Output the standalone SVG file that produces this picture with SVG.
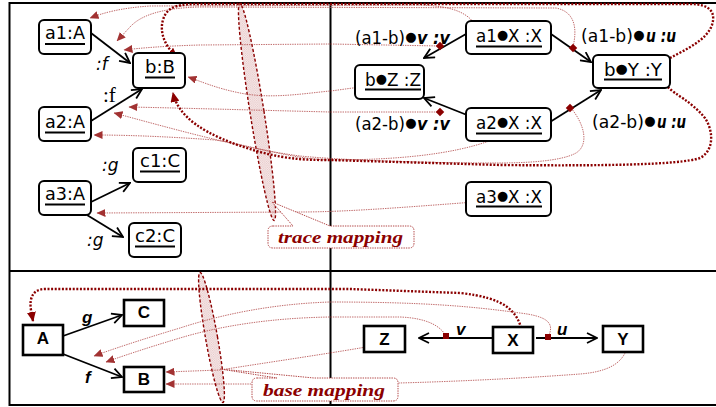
<svg xmlns="http://www.w3.org/2000/svg" width="716" height="407" viewBox="0 0 716 407">
<defs>
  <style>
    .frame { stroke: #000; stroke-width: 2; fill: none; }
    .obj { fill: #fff; stroke: #000; stroke-width: 2; }
    .typ { fill: #fff; stroke: #000; stroke-width: 2.6; }
    .ul { stroke: #000; stroke-width: 2; }
    .n { font-family: "DejaVu Sans", sans-serif; font-size: 17px; fill: #000; }
    .e { font-family: "DejaVu Sans", sans-serif; font-size: 17px; fill: #000; }
    .ei { font-family: "DejaVu Sans", sans-serif; font-size: 17px; font-style: italic; font-weight: bold; fill: #000; }
    .dot { font-size: 13px; }
    .bd { font-family: "DejaVu Sans", sans-serif; font-size: 13px; fill: #000; text-anchor: middle; }
    .lab { font-family: "DejaVu Sans", sans-serif; font-size: 17px; font-style: italic; fill: #000; }
    .t { font-family: "Liberation Sans", Arial, sans-serif; font-size: 17px; font-weight: bold; fill: #000; text-anchor: middle; }
    .ti { font-family: "Liberation Sans", Arial, sans-serif; font-size: 17px; font-weight: bold; font-style: italic; fill: #000; }
    .edge { stroke: #000; stroke-width: 1.8; fill: none; marker-end: url(#open); }
    .thick { stroke: #8b0000; stroke-width: 2.4; fill: none; stroke-dasharray: 2 1.6; marker-end: url(#hd); }
    .thin { stroke: #b34848; stroke-width: 1; fill: none; stroke-dasharray: 1.4 1; opacity: 0.8; marker-end: url(#ht); }
    .ell { fill: url(#grain); stroke: #8b0000; stroke-width: 1.4; stroke-dasharray: 3 2; }
    .call { fill: #fff; stroke: #b34848; stroke-width: 1; stroke-dasharray: 1.4 1; }
    .cap { font-family: "Liberation Serif", serif; font-size: 16px; font-weight: bold; font-style: italic; fill: #8b0000; }
    .mk { fill: #8b0000; }
  </style>
  <marker id="open" markerUnits="userSpaceOnUse" markerWidth="12" markerHeight="12" viewBox="0 0 12 12" refX="11" refY="6" orient="auto">
    <path d="M1,1 L11,6 L1,11" fill="none" stroke="#000" stroke-width="1.8"/>
  </marker>
  <marker id="hd" markerUnits="userSpaceOnUse" markerWidth="10" markerHeight="9" viewBox="0 0 10 9" refX="9" refY="4.5" orient="auto">
    <path d="M0,0 L10,4.5 L0,9 z" fill="#8b0000"/>
  </marker>
  <marker id="ht" markerUnits="userSpaceOnUse" markerWidth="9" markerHeight="8" viewBox="0 0 9 8" refX="8.5" refY="4" orient="auto">
    <path d="M0,0 L9,4 L0,8 z" fill="#8b0000"/>
  </marker>
  <pattern id="grain" width="2" height="2" patternUnits="userSpaceOnUse">
    <rect width="2" height="2" fill="#f8ecec"/>
    <rect width="1" height="1" fill="#e4c4c4"/>
    <rect x="1" y="1" width="1" height="1" fill="#ead0d0"/>
  </pattern>
</defs>

<rect width="716" height="407" fill="#fff"/>

<!-- frame and quadrant dividers -->
<g id="frame" class="frame">
  <path d="M716,3 H9.5 V405 H716"/>
  <path d="M9.5,271 H716"/>
  <path d="M330.5,3 V405"/>
</g>

<!-- mapping ellipses -->
<g id="trace-ellipse">
  <ellipse class="ell" cx="257" cy="112" rx="7" ry="110" transform="rotate(-9 257 112)"/>
</g>
<g id="base-ellipse">
  <ellipse class="ell" cx="211.5" cy="337.5" rx="6" ry="66" transform="rotate(-10 211.5 337.5)"/>
</g>

<!-- mapping connectors -->
<g id="mappings">
  <!-- trace mapping, objects and links -->
  <path class="thin" d="M477,28 C470,14 455,6 420,5 L150,6 C120,8 103,13 90,18"/>
  <path class="thin" d="M573,47 C577,30 576,12 556,8 L200,7 C160,8 140,16 130,27 L117,41"/>
  <path class="thin" d="M440,46 L330,44 L200,45 C165,46 140,48 124,50"/>
  <path class="thin" d="M363,87 C350,88 340,90 330,91 C300,94 270,99 240,93 C215,88 200,81 188,77"/>
  <path class="thin" d="M440,112 L330,112 C250,110 180,108 129,107"/>
  <path class="thin" d="M571,108 C585,125 589,145 576,153 C560,162 520,163 497,163 C420,163 340,160 300,156 C240,148 170,128 114,113"/>
  <path class="thin" d="M502,136 C470,150 420,160 330,160 C290,159 250,145 215,140 C160,136 120,135 94,135"/>
  <path class="thin" d="M475,202 C420,206 350,212 300,212 L97,213"/>
  <path class="thick" d="M670,58 C685,50 707,40 712,25 C716,12 710,4 690,4 L200,4 C180,4 170,6 165,15 C158,28 163,45 177,57"/>
  <path class="thick" d="M668,87 C675,95 690,100 705,118 C713,130 715,150 700,158 C680,165 600,166 500,165 L330,160 C310,160 290,160 260,152 C200,135 178,115 173,93"/>
  <!-- base mapping -->
  <path class="thick" d="M523,335 C518,310 505,298 460,293 L350,289 L45,289 C33,289 29,298 31,310 L33,321"/>
  <path class="thin" d="M627,348 C622,365 605,372 580,374 C500,380 400,384 330,384 L166,384"/>
  <path class="thin" d="M377,345 C340,352 270,362 220,370 L166,372"/>
  <path class="thin" d="M548,337 C556,322 545,316 520,313 C470,306 420,302 330,302 C270,304 220,315 180,328 C140,340 110,350 94,356"/>
  <path class="thin" d="M446,336 C440,325 425,318 400,317 L330,317 C270,318 220,326 180,338 C140,350 120,357 106,362"/>
</g>

<!-- callout labels -->
<g id="trace-label">
  <path class="call" d="M273,226 L293,226 L272,202 L330,226 L409,226 Q414,226 414,231 L414,243 Q414,248 409,248 L273,248 Q268,248 268,243 L268,231 Q268,226 273,226 Z"/>
  <text class="cap" x="278" y="243" textLength="125" lengthAdjust="spacingAndGlyphs">trace mapping</text>
</g>
<g id="base-label">
  <path class="call" d="M257,378 L277,378 L220,369 L314,378 L393,378 Q398,378 398,383 L398,396 Q398,401 393,401 L257,401 Q252,401 252,396 L252,383 Q252,378 257,378 Z"/>
  <text class="cap" x="263" y="396" textLength="122" lengthAdjust="spacingAndGlyphs">base mapping</text>
</g>

<!-- instance links -->
<g id="links">
  <path class="edge" d="M91,33 L130,63"/>
  <path class="edge" d="M91,121 L142,89"/>
  <path class="edge" d="M91,202 L130,183"/>
  <path class="edge" d="M87,215 L123,237"/>
  <path class="edge" d="M466,34 L424,58"/>
  <path class="edge" d="M551,34 L591,62"/>
  <path class="edge" d="M467,115 L424,98"/>
  <path class="edge" d="M550,122 L601,90"/>
  <path class="edge" d="M63,336 L122,315"/>
  <path class="edge" d="M63,354 L122,377"/>
  <path class="edge" d="M493,338 L419,338"/>
  <path class="edge" d="M536,338 L597,338"/>
  <rect class="mk" x="437" y="43" width="6" height="6" transform="rotate(45 440 46)"/>
  <rect class="mk" x="570" y="45" width="6" height="6" transform="rotate(45 573 48)"/>
  <rect class="mk" x="437" y="109" width="6" height="6" transform="rotate(45 440 112)"/>
  <rect class="mk" x="567" y="105" width="6" height="6" transform="rotate(45 570 108)"/>
  <rect class="mk" x="443" y="333" width="6" height="6"/>
  <rect class="mk" x="545" y="334" width="6" height="6"/>
</g>

<!-- link labels -->
<g id="link-labels">
  <text class="lab" x="96" y="70">:f</text>
  <text x="103" y="102" font-family="Liberation Serif, serif" font-size="21px">:f</text>
  <text class="lab" x="102" y="171">:g</text>
  <text class="lab" x="87" y="246">:g</text>

  <text class="e" x="355" y="44" textLength="50" lengthAdjust="spacingAndGlyphs">(a1-b)</text>
  <text class="bd" x="411" y="41">●</text>
  <text class="ei" x="417" y="44" textLength="33" lengthAdjust="spacingAndGlyphs">v :v</text>

  <text class="e" x="581" y="42" textLength="52" lengthAdjust="spacingAndGlyphs">(a1-b)</text>
  <text class="bd" x="639" y="39">●</text>
  <text class="ei" x="646" y="42" textLength="30" lengthAdjust="spacingAndGlyphs">u :u</text>

  <text class="e" x="355" y="130" textLength="50" lengthAdjust="spacingAndGlyphs">(a2-b)</text>
  <text class="bd" x="411" y="127">●</text>
  <text class="ei" x="417" y="130" textLength="33" lengthAdjust="spacingAndGlyphs">v :v</text>

  <text class="e" x="592" y="128" textLength="52" lengthAdjust="spacingAndGlyphs">(a2-b)</text>
  <text class="bd" x="650" y="125">●</text>
  <text class="ei" x="657" y="128" textLength="29" lengthAdjust="spacingAndGlyphs">u :u</text>

  <text class="ti" x="82" y="323">g</text>
  <text class="ti" x="85" y="383">f</text>
  <text class="ti" x="456" y="335">v</text>
  <text class="ti" x="557" y="335">u</text>
</g>

<!-- trace instances (left) -->
<g id="a1A"><rect class="obj" x="39" y="20" width="52" height="34" rx="5"/><text class="n" x="45" y="39" textLength="40" lengthAdjust="spacingAndGlyphs">a1:A</text><line class="ul" x1="45" y1="44" x2="85" y2="44"/></g>
<g id="bB"><rect class="obj" x="133" y="53" width="52" height="35" rx="5"/><text class="n" x="145" y="73" textLength="30" lengthAdjust="spacingAndGlyphs">b:B</text><line class="ul" x1="145" y1="77.5" x2="175" y2="77.5"/></g>
<g id="a2A"><rect class="obj" x="39" y="107" width="52" height="34" rx="5"/><text class="n" x="45" y="128" textLength="40" lengthAdjust="spacingAndGlyphs">a2:A</text><line class="ul" x1="45" y1="132.5" x2="85" y2="132.5"/></g>
<g id="c1C"><rect class="obj" x="133" y="148" width="53" height="34" rx="5"/><text class="n" x="140" y="167" textLength="40" lengthAdjust="spacingAndGlyphs">c1:C</text><line class="ul" x1="140" y1="171.5" x2="180" y2="171.5"/></g>
<g id="a3A"><rect class="obj" x="39" y="181" width="52" height="34" rx="5"/><text class="n" x="45" y="200" textLength="40" lengthAdjust="spacingAndGlyphs">a3:A</text><line class="ul" x1="45" y1="204.5" x2="85" y2="204.5"/></g>
<g id="c2C"><rect class="obj" x="129" y="223" width="52" height="34" rx="5"/><text class="n" x="135" y="242" textLength="40" lengthAdjust="spacingAndGlyphs">c2:C</text><line class="ul" x1="135" y1="246.5" x2="175" y2="246.5"/></g>

<!-- trace instances (right) -->
<g id="a1X"><rect class="obj" x="466" y="21" width="85" height="33" rx="5"/><text class="n" x="476" y="42" textLength="66" lengthAdjust="spacingAndGlyphs">a1<tspan class="dot" dy="-3">●</tspan><tspan dy="3">X :X</tspan></text><line class="ul" x1="476" y1="46.5" x2="542" y2="46.5"/></g>
<g id="bZ"><rect class="obj" x="355" y="65" width="69" height="34" rx="5"/><text class="n" x="365" y="86" textLength="56" lengthAdjust="spacingAndGlyphs">b<tspan class="dot" dy="-3">●</tspan><tspan dy="3">Z :Z</tspan></text><line class="ul" x1="365" y1="89.5" x2="421" y2="89.5"/></g>
<g id="bY"><rect class="obj" x="593" y="55" width="77" height="33" rx="5"/><text class="n" x="604" y="76" textLength="58" lengthAdjust="spacingAndGlyphs">b<tspan class="dot" dy="-3">●</tspan><tspan dy="3">Y :Y</tspan></text><line class="ul" x1="604" y1="79.5" x2="662" y2="79.5"/></g>
<g id="a2X"><rect class="obj" x="466" y="108" width="85" height="33" rx="5"/><text class="n" x="476" y="129" textLength="66" lengthAdjust="spacingAndGlyphs">a2<tspan class="dot" dy="-3">●</tspan><tspan dy="3">X :X</tspan></text><line class="ul" x1="476" y1="133.5" x2="542" y2="133.5"/></g>
<g id="a3X"><rect class="obj" x="466" y="182" width="85" height="34" rx="5"/><text class="n" x="476" y="203" textLength="66" lengthAdjust="spacingAndGlyphs">a3<tspan class="dot" dy="-3">●</tspan><tspan dy="3">X :X</tspan></text><line class="ul" x1="476" y1="206.5" x2="542" y2="206.5"/></g>

<!-- base types -->
<g id="A"><rect class="typ" x="23" y="325" width="40" height="30"/><text class="t" x="43" y="344">A</text></g>
<g id="C"><rect class="typ" x="124" y="300" width="40" height="26"/><text class="t" x="144" y="318">C</text></g>
<g id="B"><rect class="typ" x="124" y="367" width="40" height="25"/><text class="t" x="144" y="385">B</text></g>
<g id="Z"><rect class="typ" x="364" y="326" width="41" height="26"/><text class="t" x="384.5" y="345">Z</text></g>
<g id="X"><rect class="typ" x="493" y="327" width="40" height="26"/><text class="t" x="513" y="346">X</text></g>
<g id="Y"><rect class="typ" x="603" y="326" width="40" height="26"/><text class="t" x="623" y="345">Y</text></g>
</svg>
